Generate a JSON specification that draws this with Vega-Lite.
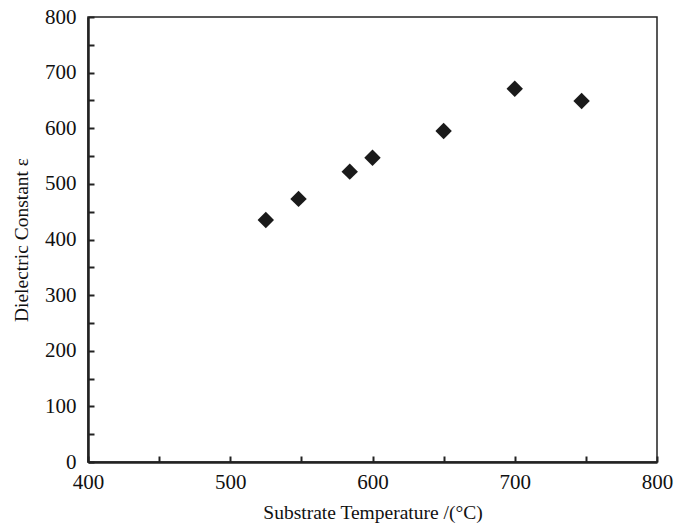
{
  "$schema": "https://vega.github.io/schema/vega-lite/v6.json",
  "autosize": "none",
  "width": 569,
  "height": 445,
  "padding": {"left": 88, "top": 17, "right": 26, "bottom": 63},
  "background": "white",
  "config": {
    "view": {"stroke": "#222", "strokeWidth": 1.5},
    "font": "Liberation Serif"
  },
  "data": {
    "values": [
      {"temp": 525, "eps": 435},
      {"temp": 548, "eps": 473},
      {"temp": 584, "eps": 522},
      {"temp": 600, "eps": 547},
      {"temp": 650, "eps": 595},
      {"temp": 700, "eps": 671},
      {"temp": 747, "eps": 649}
    ]
  },
  "mark": {"type": "point", "shape": "diamond", "filled": true, "size": 270, "color": "#1a1a1a", "opacity": 1},
  "encoding": {
    "x": {
      "field": "temp", "type": "quantitative",
      "scale": {"domain": [400, 800], "nice": false, "zero": false},
      "axis": {
        "title": "Substrate Temperature /(°C)",
        "values": [400, 450, 500, 550, 600, 650, 700, 750, 800],
        "labelExpr": "datum.value % 100 === 0 ? datum.label : ''",
        "grid": false,
        "domainColor": "#222", "domainWidth": 2.5,
        "tickColor": "#222", "tickWidth": 2, "tickSize": -6,
        "labelFont": "Liberation Serif", "labelFontSize": 21, "labelColor": "#111",
        "labelPadding": 15, "labelFlush": false,
        "titleFont": "Liberation Serif", "titleFontSize": 19.5, "titleFontWeight": "normal", "titleColor": "#111",
        "titlePadding": 11
      }
    },
    "y": {
      "field": "eps", "type": "quantitative",
      "scale": {"domain": [0, 800], "nice": false},
      "axis": {
        "title": "Dielectric Constant ε",
        "values": [0, 50, 100, 150, 200, 250, 300, 350, 400, 450, 500, 550, 600, 650, 700, 750, 800],
        "labelExpr": "datum.value % 100 === 0 ? datum.label : ''",
        "grid": false,
        "domainColor": "#222", "domainWidth": 2.5,
        "tickColor": "#222", "tickWidth": 2, "tickSize": -6,
        "labelFont": "Liberation Serif", "labelFontSize": 21, "labelColor": "#111",
        "labelPadding": 18, "labelFlush": false,
        "titleFont": "Liberation Serif", "titleFontSize": 19.5, "titleFontWeight": "normal", "titleColor": "#111",
        "titlePadding": 13
      }
    }
  }
}
